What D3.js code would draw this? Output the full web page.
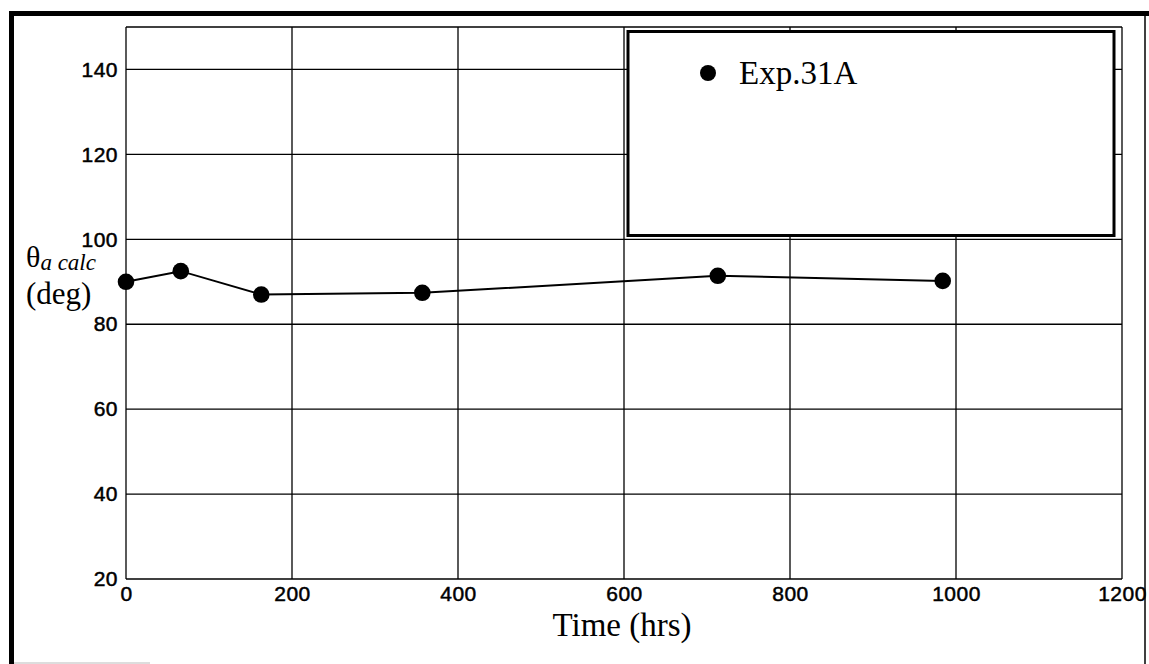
<!DOCTYPE html>
<html>
<head>
<meta charset="utf-8">
<script src="https://cdn.jsdelivr.net/npm/d3@7"></script>
<style>
  html, body { margin: 0; padding: 0; background: #fff; }
  svg { display: block; }
</style>
</head>
<body>
<div id="chart"></div>
<script>
// data
const hours = [0, 66, 163, 357, 713, 984];
const theta = [90, 92.5, 87, 87.4, 91.4, 90.2];
const xTicks = [0, 200, 400, 600, 800, 1000, 1200];
const yTicks = [20, 40, 60, 80, 100, 120, 140];
const seriesName = "Exp.31A";

(function chart() {
  let width = 1149,
    height = 664,
    margin = ({ top: 27, right: 27, bottom: 85, left: 126 });

  const svg = d3.select("#chart")
    .append("svg")
    .attr("width", width)
    .attr("height", height)
    .attr("viewBox", [0, 0, width, height]);

  const data = hours.map((h, i) => ({ x: h, y: theta[i] }));

  let x = d3.scaleLinear([0, 1200], [margin.left, width - margin.right]);
  let y = d3.scaleLinear([20, 150], [height - margin.bottom, margin.top]);

  // outer frame
  svg.append("line").attr("x1", 11.5).attr("x2", 11.5).attr("y1", 11).attr("y2", 664)
    .attr("stroke", "#000").attr("stroke-width", 5);
  svg.append("line").attr("x1", 9).attr("x2", 1149).attr("y1", 13.5).attr("y2", 13.5)
    .attr("stroke", "#000").attr("stroke-width", 5);
  svg.append("line").attr("x1", 1145).attr("x2", 1145).attr("y1", 13).attr("y2", 664)
    .attr("stroke", "#000").attr("stroke-width", 1.5);
  svg.append("line").attr("x1", 14).attr("x2", 150).attr("y1", 663).attr("y2", 663)
    .attr("stroke", "#bbb").attr("stroke-width", 1);

  // grid
  svg.append("g")
    .selectAll("line")
    .data(xTicks)
    .join("line")
    .attr("x1", d => x(d)).attr("x2", d => x(d))
    .attr("y1", y(20)).attr("y2", y(150))
    .attr("stroke", "#000").attr("stroke-width", 1.3);

  svg.append("g")
    .selectAll("line")
    .data(yTicks.concat([150]))
    .join("line")
    .attr("x1", x(0)).attr("x2", x(1200))
    .attr("y1", d => y(d)).attr("y2", d => y(d))
    .attr("stroke", "#000").attr("stroke-width", 1.3);

  // axes (labels only)
  const xAxis = svg.append("g")
    .attr("transform", `translate(0,${y(20)})`)
    .call(d3.axisBottom(x).tickValues(xTicks).tickFormat(d3.format("d")).tickSize(0).tickPadding(7));
  const yAxis = svg.append("g")
    .attr("transform", `translate(${x(0)},0)`)
    .call(d3.axisLeft(y).tickValues(yTicks).tickSize(0).tickPadding(8));

  [xAxis, yAxis].forEach(g => {
    g.select(".domain").remove();
    g.attr("font-size", 21).attr("font-family", "'Liberation Sans', Arial, sans-serif");
    g.selectAll("text")
      .attr("fill", "#000")
      .attr("stroke", "#000")
      .attr("stroke-width", 0.5)
      .attr("letter-spacing", 0.5)
      .attr("font-size", 21);
  });

  // legend box (covers the grid)
  svg.append("rect")
    .attr("x", 628).attr("y", 31.5)
    .attr("width", 486).attr("height", 204)
    .attr("fill", "#fff").attr("stroke", "#000").attr("stroke-width", 3);
  svg.append("circle").attr("cx", 708).attr("cy", 73).attr("r", 8).attr("fill", "#000");
  svg.append("text")
    .attr("x", 739).attr("y", 84)
    .text(seriesName)
    .style("font-family", "'Liberation Serif', 'Times New Roman', serif")
    .style("font-size", "33px");

  // series
  svg.append("path")
    .datum(data)
    .attr("fill", "none")
    .attr("stroke", "#000")
    .attr("stroke-width", 2)
    .attr("d", d3.line().x(d => x(d.x)).y(d => y(d.y)));

  svg.append("g")
    .selectAll("circle")
    .data(data)
    .join("circle")
    .attr("cx", d => x(d.x))
    .attr("cy", d => y(d.y))
    .attr("r", 8.3)
    .attr("fill", "#000");

  // axis titles
  svg.append("text")
    .attr("x", 622).attr("y", 636)
    .attr("text-anchor", "middle")
    .text("Time (hrs)")
    .style("font-family", "'Liberation Serif', 'Times New Roman', serif")
    .style("font-size", "33px");

  // y title: theta with subscript, then (deg) on the next line
  const yt = svg.append("text")
    .attr("x", 26).attr("y", 267)
    .style("font-family", "'Liberation Serif', 'Times New Roman', serif");
  yt.append("tspan").text("θ").style("font-size", "30px");
  yt.append("tspan").attr("dy", 3).text("a calc")
    .style("font-style", "italic").style("font-size", "23px");

  svg.append("text")
    .attr("x", 26).attr("y", 304)
    .text("(deg)")
    .style("font-family", "'Liberation Serif', 'Times New Roman', serif")
    .style("font-size", "31px");
})();
</script>
</body>
</html>
